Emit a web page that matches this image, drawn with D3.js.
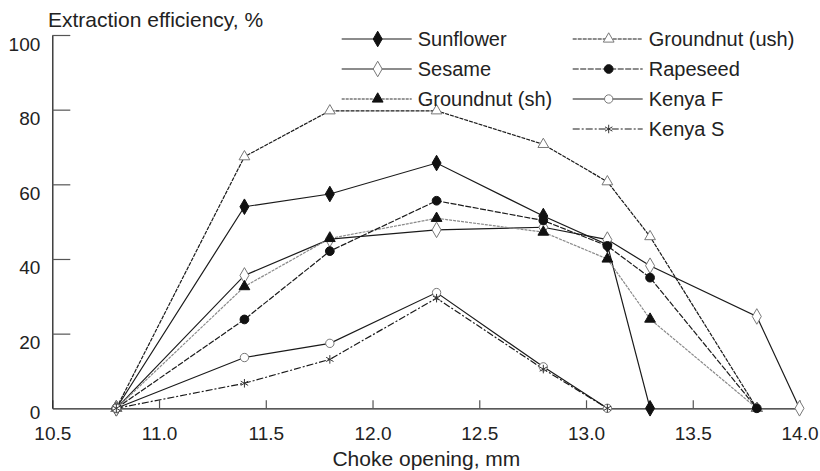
<!DOCTYPE html>
<html><head><meta charset="utf-8">
<script src="https://cdn.jsdelivr.net/npm/d3@7"></script>
<style>
html,body{margin:0;padding:0;background:#fff;}
</style></head>
<body><svg id="chart" width="820" height="471"></svg>
<script>
// ---- data ----
const xTicks = [10.5, 11.0, 11.5, 12.0, 12.5, 13.0, 13.5, 14.0];
const yTicks = [0, 20, 40, 60, 80, 100];
const yTitle = "Extraction efficiency, %";
const xTitle = "Choke opening, mm";

const sunflowerX = [10.8, 11.4, 11.8, 12.3, 12.8, 13.1, 13.3];
const sunflowerY = [0, 54.0, 57.4, 65.7, 51.5, 43.8, 0];
const sesameX = [10.8, 11.4, 11.8, 12.3, 12.8, 13.1, 13.3, 13.8, 14.0];
const sesameY = [0, 35.6, 45.3, 47.8, 48.5, 45.2, 38.2, 24.6, 0];
const groundnutShX = [10.8, 11.4, 11.8, 12.3, 12.8, 13.1, 13.3, 13.8];
const groundnutShY = [0, 32.6, 45.5, 50.9, 47.2, 40.0, 23.9, 0];
const groundnutUshX = [10.8, 11.4, 11.8, 12.3, 12.8, 13.1, 13.3, 13.8];
const groundnutUshY = [0, 67.4, 79.7, 79.7, 70.7, 60.7, 46.0, 0];
const rapeseedX = [10.8, 11.4, 11.8, 12.3, 12.8, 13.1, 13.3, 13.8];
const rapeseedY = [0, 23.8, 42.1, 55.6, 50.3, 43.5, 35.0, 0];
const kenyaFX = [10.8, 11.4, 11.8, 12.3, 12.8, 13.1];
const kenyaFY = [0, 13.6, 17.4, 31.0, 11.1, 0];
const kenyaSX = [10.8, 11.4, 11.8, 12.3, 12.8, 13.1];
const kenyaSY = [0, 6.7, 13.1, 29.5, 10.5, 0];

const seriesNames = ["Sunflower", "Sesame", "Groundnut (sh)", "Groundnut (ush)", "Rapeseed", "Kenya F", "Kenya S"];

// ---- styles ----
const styles = {
  "Sunflower":      {stroke:"#1a1a1a", dash:null,        sym:d3.symbolDiamond,  size:70, fill:"#111", mstroke:"#111"},
  "Sesame":         {stroke:"#1a1a1a", dash:null,        sym:d3.symbolDiamond,  size:70, fill:"#fff", mstroke:"#777"},
  "Groundnut (sh)": {stroke:"#8a8a8a", dash:"3,1",       sym:d3.symbolTriangle, size:50, fill:"#111", mstroke:"#111", lstroke:"#333"},
  "Groundnut (ush)":{stroke:"#1a1a1a", dash:"4,1",       sym:d3.symbolTriangle, size:50, fill:"#fff", mstroke:"#777"},
  "Rapeseed":       {stroke:"#1a1a1a", dash:"6,1.5",     sym:d3.symbolCircle,   size:60, fill:"#111", mstroke:"#111"},
  "Kenya F":        {stroke:"#1a1a1a", dash:null,        sym:d3.symbolCircle,   size:55, fill:"#fff", mstroke:"#777"},
  "Kenya S":        {stroke:"#1a1a1a", dash:"7,2,2,2",   sym:"asterisk",        size:60, fill:"none", mstroke:"#333"}
};

const series = [
  {name:"Sunflower", xs:sunflowerX, ys:sunflowerY},
  {name:"Sesame", xs:sesameX, ys:sesameY},
  {name:"Groundnut (sh)", xs:groundnutShX, ys:groundnutShY},
  {name:"Groundnut (ush)", xs:groundnutUshX, ys:groundnutUshY},
  {name:"Rapeseed", xs:rapeseedX, ys:rapeseedY},
  {name:"Kenya F", xs:kenyaFX, ys:kenyaFY},
  {name:"Kenya S", xs:kenyaSX, ys:kenyaSY}
];

const FONT = "Liberation Sans";
const svg = d3.select("#chart").attr("font-family", FONT);
const x = d3.scaleLinear().domain([10.5, 14.0]).range([52.3, 799.5]);
const y = d3.scaleLinear().domain([0, 100]).range([408.3, 35]);

// axes
const gx = svg.append("g").attr("transform", `translate(0,${y(0)})`)
  .call(d3.axisBottom(x).tickValues(xTicks).tickFormat(d3.format(".1f")).tickSizeInner(-8).tickSizeOuter(0).tickPadding(0));
gx.attr("font-family", FONT);
gx.select(".domain").attr("stroke", "#222").attr("stroke-width", 1.3);
gx.selectAll(".tick line").attr("stroke", "#555").attr("stroke-width", 1.2);
gx.selectAll(".tick text").attr("font-size", 19)
  .attr("fill", "#222").attr("y", 32).attr("dy", 0);

const gy = svg.append("g").attr("transform", `translate(${x(10.5)},0)`)
  .call(d3.axisLeft(y).tickValues(yTicks).tickFormat(d3.format("d")).tickSizeInner(-18).tickSizeOuter(0).tickPadding(0));
gy.attr("font-family", FONT);
gy.select(".domain").attr("stroke", "#222").attr("stroke-width", 1.3);
gy.selectAll(".tick line").attr("stroke", "#555").attr("stroke-width", 1.2)
  .filter(d => d === 0).remove();
gy.selectAll(".tick text").attr("font-size", 19)
  .attr("fill", "#222").attr("x", -12).attr("dy", 0).attr("y", d => d === 0 ? 10 : 15);

// titles
svg.append("text").attr("x", 48).attr("y", 27).attr("font-size", 21).attr("fill", "#222").text(yTitle);
svg.append("text").attr("x", (x.range()[0] + x.range()[1]) / 2 + 0.5).attr("y", 466).attr("text-anchor", "middle")
  .attr("font-size", 21).attr("fill", "#222").text(xTitle);

function asteriskPath(s) {
  const r = Math.sqrt(s) * 0.55;
  let p = "";
  for (let i = 0; i < 3; i++) {
    const a = Math.PI / 2 + i * Math.PI / 3;
    const dx = r * Math.cos(a), dy = r * Math.sin(a);
    p += `M${-dx},${-dy}L${dx},${dy}`;
  }
  return p;
}
function markerPath(st) {
  if (st.sym === "asterisk") return asteriskPath(st.size);
  return d3.symbol().type(st.sym).size(st.size)();
}

const line = d3.line().x(d => x(d[0])).y(d => y(d[1]));

series.forEach(s => {
  const st = styles[s.name];
  const pts = s.xs.map((v, i) => [v, s.ys[i]]);
  svg.append("path").datum(pts).attr("d", line).attr("fill", "none")
    .attr("stroke", st.stroke).attr("stroke-width", 1.2)
    .attr("stroke-dasharray", st.dash);
});
series.forEach(s => {
  const st = styles[s.name];
  const pts = s.xs.map((v, i) => [v, s.ys[i]]);
  svg.append("g").selectAll("path").data(pts).join("path")
    .attr("transform", d => `translate(${x(d[0])},${y(d[1])})`)
    .attr("d", markerPath(st))
    .attr("fill", st.fill).attr("stroke", st.mstroke).attr("stroke-width", 1);
});

const legendPos = [
  {col:0, row:0}, {col:0, row:1}, {col:0, row:2},
  {col:1, row:0}, {col:1, row:1}, {col:1, row:2}, {col:1, row:3}
];
const colX = [341.7, 572.7];
seriesNames.forEach((name, i) => {
  const st = styles[name];
  const lp = legendPos[i];
  const lx = colX[lp.col], ly = 39 + lp.row * 30;
  const g = svg.append("g");
  g.append("line").attr("x1", lx).attr("x2", lx + 70).attr("y1", ly).attr("y2", ly)
    .attr("stroke", st.lstroke || st.stroke).attr("stroke-width", 1.2).attr("stroke-dasharray", st.dash);
  g.append("path").attr("transform", `translate(${lx + 36},${ly})`).attr("d", markerPath(st))
    .attr("fill", st.fill).attr("stroke", st.mstroke).attr("stroke-width", 1);
  g.append("text").attr("x", lx + 76).attr("y", ly).attr("dy", "0.35em")
    .attr("font-size", 20).attr("fill", "#222").text(name);
});
</script>
</body></html>
